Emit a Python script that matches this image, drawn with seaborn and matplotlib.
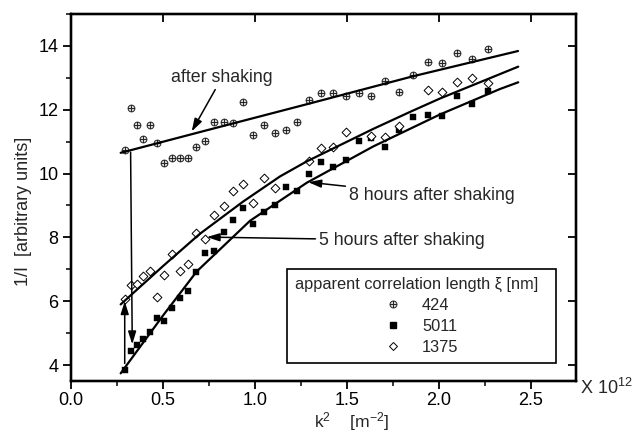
import numpy as np
import pandas as pd
import matplotlib
matplotlib.use("Agg")
import matplotlib.pyplot as plt
from matplotlib.path import Path
from matplotlib.lines import Line2D
from matplotlib.ticker import MultipleLocator, NullLocator
import seaborn as sns

# ---------------- data (k^2 in units of 1e12 m^-2) ----------------
k2 = [0.291, 0.324, 0.359, 0.394, 0.429, 0.466, 0.506, 0.549, 0.592, 0.637,
      0.682, 0.730, 0.778, 0.829, 0.882, 0.935, 0.991, 1.049, 1.107, 1.167,
      1.228, 1.294, 1.357, 1.426, 1.494, 1.563, 1.632, 1.709, 1.785, 1.861,
      1.938, 2.016, 2.098, 2.181, 2.266]

inv_I_424 = [10.74, 12.07, 11.53, 11.07, 11.52, 10.97, 10.33, 10.49, 10.49, 10.49,
             10.82, 11.03, 11.63, 11.63, 11.60, 12.23, 11.21, 11.51, 11.28, 11.38,
             11.63, 12.30, 12.54, 12.52, 12.42, 12.52, 12.42, 12.91, 12.56, 13.10,
             13.51, 13.46, 13.77, 13.60, 13.89]

inv_I_5011 = [3.83, 4.44, 4.63, 4.82, 5.05, 5.48, 5.37, 5.79, 6.10, 6.33,
              6.93, 7.51, 7.58, 8.17, 8.53, 8.92, 8.41, 8.81, 9.00, 9.59,
              9.44, 10.00, 10.36, 10.21, 10.44, 11.02, 11.12, 10.84, 11.37, 11.77,
              11.85, 11.80, 12.42, 12.18, 12.58]

nan = float("nan")
inv_I_1375 = [6.08, 6.51, 6.55, 6.78, 6.94, 6.14, 6.81, 7.49, 6.94, 7.16,
              8.14, 7.95, 8.70, 8.98, 9.45, 9.66, 9.09, 9.85, 9.55, nan,
              nan, 10.39, 10.80, 10.82, 11.31, nan, 11.17, 11.14, 11.48, nan,
              12.61, 12.55, 12.86, 12.99, 12.84]

# fitted curves
fit_after_x = [0.27, 0.80, 1.30, 1.86, 2.43]
fit_after_y = [10.65, 11.45, 12.20, 13.05, 13.84]

fit_5h_x = [0.27, 0.50, 0.70, 0.935, 1.136, 1.281, 1.643, 1.842, 2.005, 2.431]
fit_5h_y = [5.90, 7.10, 8.11, 9.12, 9.91, 10.38, 11.40, 11.93, 12.35, 13.35]

fit_8h_x = [0.27, 0.50, 0.683, 0.973, 1.281, 1.643, 2.005, 2.332, 2.431]
fit_8h_y = [3.74, 5.55, 6.93, 8.52, 9.71, 10.85, 11.85, 12.65, 12.86]

legend_labels = ["424", "5011", "1375"]
x_ticks = [0.0, 0.5, 1.0, 1.5, 2.0, 2.5]
y_ticks = [4, 6, 8, 10, 12, 14]

# ---------------- style ----------------
sns.set_theme(style="white")
plt.rcParams["font.family"] = ["Liberation Sans", "DejaVu Sans"]
plt.rcParams["mathtext.fontset"] = "custom"
plt.rcParams["mathtext.rm"] = "Liberation Sans"
plt.rcParams["mathtext.it"] = "Liberation Sans:italic"
plt.rcParams["mathtext.default"] = "regular"

fig = plt.figure(figsize=(6.42, 4.32), dpi=100)
ax = fig.add_axes([71 / 642, 1 - 381 / 432, 505 / 642, 367 / 432])

# circle-plus marker
circ = Path.unit_circle()
cross = Path([[-1, 0], [1, 0], [0, -1], [0, 1]],
             [Path.MOVETO, Path.LINETO, Path.MOVETO, Path.LINETO])
oplus = Path.make_compound_path(circ, cross)

df = pd.DataFrame({"k2": k2, "a": inv_I_424, "b": inv_I_5011, "c": inv_I_1375})

sns.scatterplot(data=df, x="k2", y="a", ax=ax, marker=oplus, s=24,
                facecolor="#d8d8d8", edgecolor="#222222", linewidth=0.7, zorder=3)
sns.scatterplot(data=df, x="k2", y="b", ax=ax, marker="s", s=22,
                color="black", edgecolor="black", linewidth=0.3, zorder=3)
sns.scatterplot(data=df, x="k2", y="c", ax=ax, marker="D", s=20,
                facecolor="white", edgecolor="black", linewidth=0.7, zorder=3)

for fx, fy in [(fit_after_x, fit_after_y), (fit_5h_x, fit_5h_y), (fit_8h_x, fit_8h_y)]:
    sns.lineplot(x=fx, y=fy, ax=ax, color="black", lw=1.6, sort=False,
                 estimator=None, zorder=4)

# arrows
ap = dict(arrowstyle="-|>,head_length=0.7,head_width=0.22", color="black", lw=1.1,
          mutation_scale=11, shrinkA=0, shrinkB=0)
ax.annotate("", xy=(0.333, 4.65), xytext=(0.324, 10.67), arrowprops=ap, zorder=5)
ax.annotate("", xy=(0.292, 6.0), xytext=(0.292, 4.05), arrowprops=ap, zorder=5)

fs_ann = 12.8
ax.annotate("after shaking", xy=(0.656, 11.32), xytext=(0.82, 13.0),
            ha="center", va="center", fontsize=fs_ann, arrowprops=ap)
ax.annotate("8 hours after shaking", xy=(1.29, 9.73), xytext=(1.96, 9.31),
            ha="center", va="center", fontsize=fs_ann, arrowprops=ap)
ax.annotate("5 hours after shaking", xy=(0.738, 8.01), xytext=(1.797, 7.91),
            ha="center", va="center", fontsize=fs_ann, arrowprops=ap)

# axes
ax.set_xlim(0.0, 2.745)
ax.set_ylim(3.5, 15.0)
ax.set_xticks(x_ticks)
ax.set_xticklabels([f"{v:.1f}" for v in x_ticks])
ax.set_yticks(y_ticks)
ax.set_yticklabels([str(v) for v in y_ticks])
ax.xaxis.set_minor_locator(MultipleLocator(0.25))
ax.yaxis.set_minor_locator(MultipleLocator(1))
ax.tick_params(axis="both", which="major", direction="out", length=6, width=1.3,
               labelsize=13, pad=3, color="black", labelcolor="black",
               bottom=True, left=True, top=False, right=False)
ax.tick_params(axis="x", which="major", pad=2)
ax.tick_params(axis="both", which="minor", direction="out", length=3.5, width=1.1,
               color="black", bottom=True, left=True, top=False, right=False)
for s in ax.spines.values():
    s.set_linewidth(1.6)
    s.set_color("black")

# top/right inward major ticks via twin axes
axt = ax.twiny()
axt.set_xlim(ax.get_xlim())
axt.set_xticks(x_ticks)
axt.xaxis.set_minor_locator(NullLocator())
axt.tick_params(axis="x", which="major", direction="in", length=6, width=1.3,
                top=True, bottom=False, labeltop=False, labelbottom=False, color="black")
axr = ax.twinx()
axr.set_ylim(ax.get_ylim())
axr.set_yticks(y_ticks)
axr.yaxis.set_minor_locator(NullLocator())
axr.tick_params(axis="y", which="major", direction="in", length=6, width=1.3,
                right=True, left=False, labelright=False, labelleft=False, color="black")
for a2 in (axt, axr):
    for s in a2.spines.values():
        s.set_linewidth(1.6)
        s.set_color("black")
    a2.grid(False)

ax.set_xlabel(r"k$^{2}$    [m$^{-2}$]", fontsize=12.6)
ax.set_ylabel("1/I  [arbitrary units]", fontsize=13)
ax.xaxis.set_label_coords(0.556, -0.079)
ax.yaxis.set_label_coords(-0.078, 0.462)

fig.text(580 / 642, 1 - 388 / 432, r"X 10$^{12}$", fontsize=13, ha="left", va="center")

# legend
handles = [
    Line2D([], [], ls="none", marker=oplus, ms=5, mfc="#d8d8d8", mec="#222222", mew=0.7),
    Line2D([], [], ls="none", marker="s", ms=4.5, mfc="black", mec="black"),
    Line2D([], [], ls="none", marker="D", ms=4, mfc="white", mec="black", mew=0.7),
]
leg = axr.legend(handles, legend_labels,
                 title="apparent correlation length \u03be [nm]  ",
                 loc="lower right", bbox_to_anchor=(0.960, 0.049), borderaxespad=0,
                 fontsize=11.8, title_fontsize=11.8, frameon=True, fancybox=False,
                 framealpha=1, edgecolor="black", alignment="center", handlelength=1.0,
                 handletextpad=1.3, labelspacing=0.36, borderpad=0.5)
leg.get_frame().set_linewidth(1.2)

fig.savefig("out.png", dpi=100)
